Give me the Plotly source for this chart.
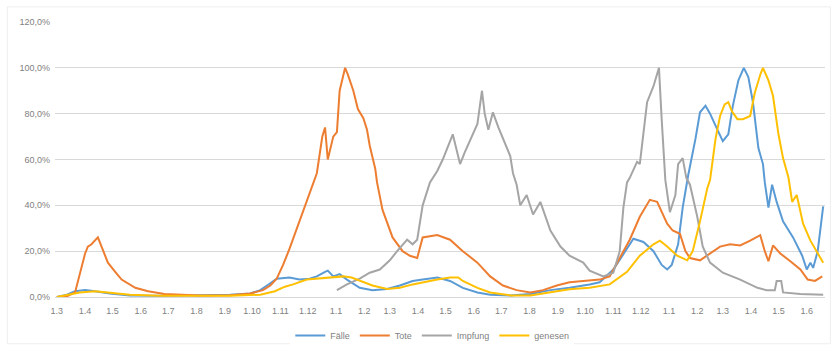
import numpy as np
import plotly.graph_objects as go

# Relative weekly-smoothed Covid indicators, each scaled to its own maximum (= 100 %)

faelle_dates = [
    "2020-03-01", "2020-03-12", "2020-03-21", "2020-04-01", "2020-04-12", "2020-04-28",
    "2020-05-20", "2020-06-22", "2020-08-05", "2020-09-07", "2020-09-29", "2020-10-10",
    "2020-10-21", "2020-10-28", "2020-11-11", "2020-11-22", "2020-12-03", "2020-12-11",
    "2020-12-20", "2020-12-23", "2020-12-29", "2021-01-05", "2021-01-13", "2021-01-27",
    "2021-02-10", "2021-02-26", "2021-03-12", "2021-03-26", "2021-04-06", "2021-04-22",
    "2021-05-06", "2021-05-20", "2021-06-05", "2021-06-19", "2021-07-11", "2021-08-02",
    "2021-08-24", "2021-09-14", "2021-10-06", "2021-10-17", "2021-11-01", "2021-11-12",
    "2021-11-23", "2021-12-04", "2021-12-15", "2021-12-24", "2021-12-30", "2022-01-04",
    "2022-01-11", "2022-01-16", "2022-01-22", "2022-01-30", "2022-02-04", "2022-02-10",
    "2022-02-15", "2022-02-23", "2022-03-01", "2022-03-07", "2022-03-12", "2022-03-18",
    "2022-03-24", "2022-03-29", "2022-04-03", "2022-04-09", "2022-04-14", "2022-04-16",
    "2022-04-20", "2022-04-24", "2022-04-29", "2022-05-06", "2022-05-17", "2022-05-27",
    "2022-06-01", "2022-06-05", "2022-06-08", "2022-06-13", "2022-06-19",
]
faelle_pct = [
    0, 1, 2.5, 3, 2.5, 1.5,
    0.7, 0.5, 0.8, 1, 1.5, 3,
    6, 8, 8.5, 7.6, 8, 9,
    11, 11.5, 9, 10, 7.6, 4,
    3, 3.5, 5, 7, 7.6, 8.5,
    7, 4, 2, 1, 0.7, 1.3,
    3, 4, 5.5, 6.4, 12, 19,
    25.4, 24, 20, 14, 12, 14,
    23, 39, 53, 69, 80.6, 83.5,
    80, 73, 68, 71, 83.5, 94.5,
    100, 96, 85, 65, 58, 50,
    39, 49, 41.5, 33, 26, 18,
    12, 15, 12.7, 20, 39.5,
]

tote_dates = [
    "2020-03-01", "2020-03-12", "2020-03-21", "2020-03-26", "2020-04-01", "2020-04-04",
    "2020-04-08", "2020-04-15", "2020-04-20", "2020-04-26", "2020-05-04", "2020-05-11",
    "2020-05-26", "2020-06-09", "2020-06-27", "2020-08-05", "2020-09-07", "2020-09-29",
    "2020-10-13", "2020-10-21", "2020-10-28", "2020-11-04", "2020-11-11", "2020-11-22",
    "2020-12-03", "2020-12-11", "2020-12-17", "2020-12-20", "2020-12-23", "2020-12-29",
    "2021-01-02", "2021-01-05", "2021-01-11", "2021-01-14", "2021-01-20", "2021-01-25",
    "2021-01-31", "2021-02-04", "2021-02-07", "2021-02-13", "2021-02-15", "2021-02-21",
    "2021-03-04", "2021-03-15", "2021-03-23", "2021-03-31", "2021-04-06", "2021-04-22",
    "2021-05-06", "2021-05-20", "2021-06-05", "2021-06-19", "2021-07-03", "2021-07-18",
    "2021-08-02", "2021-08-16", "2021-08-31", "2021-09-14", "2021-09-29", "2021-10-17",
    "2021-10-28", "2021-11-08", "2021-11-19", "2021-11-30", "2021-12-11", "2021-12-19",
    "2021-12-24", "2021-12-30", "2022-01-05", "2022-01-13", "2022-01-19", "2022-01-24",
    "2022-02-04", "2022-02-15", "2022-02-26", "2022-03-09", "2022-03-20", "2022-03-31",
    "2022-04-11", "2022-04-16", "2022-04-20", "2022-04-25", "2022-05-03", "2022-05-14",
    "2022-05-25", "2022-06-02", "2022-06-10", "2022-06-18",
]
tote_pct = [
    0, 0.3, 2, 10, 19, 22,
    23, 26, 21, 15, 11, 7.6,
    4, 2.5, 1.3, 0.7, 0.8, 1.5,
    3, 5, 8, 14, 21, 33,
    45, 54, 70, 74, 60, 70,
    72, 90, 100, 97, 90, 82,
    78, 73, 66, 56, 50, 38,
    26, 20, 18, 17, 26, 27,
    25, 20, 15, 9, 5, 3,
    2, 3, 5, 6.4, 7, 7.6,
    9, 17, 25, 35, 42.4, 41.5,
    37, 32, 29, 27.6, 20, 17,
    16, 19, 22, 23, 22.5, 24.6,
    27, 20, 15.6, 22.5, 19, 15.6,
    12, 7.6, 7, 9,
]

impfung_dates = [
    "2021-01-02", "2021-01-13", "2021-01-27", "2021-02-07", "2021-02-18", "2021-03-01",
    "2021-03-09", "2021-03-20", "2021-03-26", "2021-03-31", "2021-04-06", "2021-04-14",
    "2021-04-22", "2021-04-28", "2021-05-09", "2021-05-17", "2021-05-22", "2021-05-30",
    "2021-06-05", "2021-06-10", "2021-06-13", "2021-06-17", "2021-06-22", "2021-06-28",
    "2021-07-03", "2021-07-11", "2021-07-14", "2021-07-18", "2021-07-22", "2021-07-29",
    "2021-08-05", "2021-08-13", "2021-08-24", "2021-09-04", "2021-09-14", "2021-09-29",
    "2021-10-06", "2021-10-21", "2021-11-01", "2021-11-08", "2021-11-12", "2021-11-16",
    "2021-11-19", "2021-11-27", "2021-11-30", "2021-12-08", "2021-12-15", "2021-12-19",
    "2021-12-21", "2021-12-24", "2021-12-28", "2022-01-02", "2022-01-08", "2022-01-11",
    "2022-01-16", "2022-01-20", "2022-01-24", "2022-02-01", "2022-02-07", "2022-02-15",
    "2022-03-01", "2022-03-20", "2022-04-08", "2022-04-18", "2022-04-27", "2022-04-29",
    "2022-05-04", "2022-05-06", "2022-05-25", "2022-06-19",
]
impfung_pct = [
    3, 5.5, 8, 10.6, 12, 16,
    20, 25, 23, 25, 40, 50,
    55, 60, 71, 58, 63, 70,
    75.5, 90, 80, 73, 80.6, 74,
    69, 61.5, 54, 49, 40, 44.5,
    36, 41.5, 29, 22, 18, 15,
    11.5, 9, 10.6, 20, 39, 50,
    52, 59, 58, 85, 92, 97,
    100, 77.5, 51, 37, 44.5, 58,
    60.6, 52, 49, 35, 22, 15,
    10.6, 7.6, 4, 3, 3, 7,
    7, 2, 1.3, 1,
]

genesen_dates = [
    "2020-03-01", "2020-03-15", "2020-03-26", "2020-04-12", "2020-04-28", "2020-05-20",
    "2020-06-22", "2020-09-07", "2020-10-10", "2020-10-26", "2020-11-06", "2020-11-15",
    "2020-11-30", "2020-12-22", "2021-01-09", "2021-01-18", "2021-01-27", "2021-02-10",
    "2021-02-26", "2021-03-12", "2021-03-26", "2021-04-06", "2021-04-22", "2021-05-06",
    "2021-05-15", "2021-05-20", "2021-06-05", "2021-06-19", "2021-07-11", "2021-08-02",
    "2021-08-24", "2021-09-14", "2021-10-06", "2021-10-28", "2021-11-16", "2021-11-30",
    "2021-12-15", "2021-12-22", "2021-12-30", "2022-01-10", "2022-01-21", "2022-01-27",
    "2022-02-04", "2022-02-12", "2022-02-15", "2022-02-21", "2022-02-26", "2022-03-03",
    "2022-03-07", "2022-03-11", "2022-03-17", "2022-03-23", "2022-03-31", "2022-04-05",
    "2022-04-11", "2022-04-14", "2022-04-20", "2022-04-25", "2022-05-01", "2022-05-06",
    "2022-05-12", "2022-05-16", "2022-05-21", "2022-05-28", "2022-06-05", "2022-06-12",
    "2022-06-19",
]
genesen_pct = [
    0, 1, 2, 2.5, 2, 1,
    0.5, 0.5, 1, 2.5, 4.5, 5.5,
    7.6, 8.5, 9, 8.5, 7, 5,
    3.5, 4, 5.5, 6.4, 7.6, 8.5,
    8.5, 7, 4, 2, 0.7, 0.7,
    2, 3.4, 4, 5.5, 11, 18,
    23, 24.6, 22, 18, 16, 20,
    33, 47.5, 51, 69, 79, 84,
    85, 81, 77.6, 77.6, 79, 89,
    97, 100, 94.5, 87.8, 71, 60.6,
    52, 41.5, 44.5, 32, 24.6, 20,
    15,
]

series = [
    ("Fälle", faelle_dates, faelle_pct, "#5B9BD5"),
    ("Tote", tote_dates, tote_pct, "#ED7D31"),
    ("Impfung", impfung_dates, impfung_pct, "#A5A5A5"),
    ("genesen", genesen_dates, genesen_pct, "#FFC000"),
]

text_color = "#7F7F7F"
grid_color = "#D9D9D9"

fig = go.Figure()
for name, dates, pct, color in series:
    fig.add_trace(go.Scatter(
        x=dates,
        y=np.array(pct, dtype=float) / 100.0,
        mode="lines",
        name=name,
        line=dict(color=color, width=2),
    ))

fig.update_layout(
    width=832,
    height=357,
    margin=dict(l=55, r=7, t=22, b=52),
    paper_bgcolor="white",
    plot_bgcolor="white",
    separators=",.",
    font=dict(family="Liberation Sans, Arial, sans-serif", size=9, color=text_color),
    showlegend=True,
    legend=dict(
        orientation="h",
        x=0.49,
        xanchor="center",
        y=-0.14,
        yanchor="middle",
        font=dict(size=9, color=text_color),
        itemwidth=30,
        tracegroupgap=0,
    ),
    xaxis=dict(
        type="date",
        range=["2020-02-28", "2022-06-21"],
        tick0="2020-03-01",
        dtick="M1",
        tickformat="%-d.%-m",
        showgrid=False,
        showline=True,
        linecolor=grid_color,
        linewidth=1,
        ticks="",
        ticklabelstandoff=5,
        tickfont=dict(size=9, color=text_color),
        fixedrange=True,
    ),
    yaxis=dict(
        range=[0, 1.2],
        dtick=0.2,
        tickformat=".1%",
        showgrid=True,
        gridcolor=grid_color,
        gridwidth=1,
        zeroline=True,
        zerolinecolor=grid_color,
        zerolinewidth=1,
        showline=False,
        ticks="",
        ticklabelstandoff=4,
        tickfont=dict(size=9, color=text_color),
        fixedrange=True,
    ),
)

# faint chart-area frame
fig.add_shape(
    type="rect", xref="paper", yref="paper",
    x0=-0.062, x1=1.007, y0=-0.17, y1=1.055,
    line=dict(color="#EEEEEE", width=1),
    layer="below",
)

fig.write_html("out.html")
